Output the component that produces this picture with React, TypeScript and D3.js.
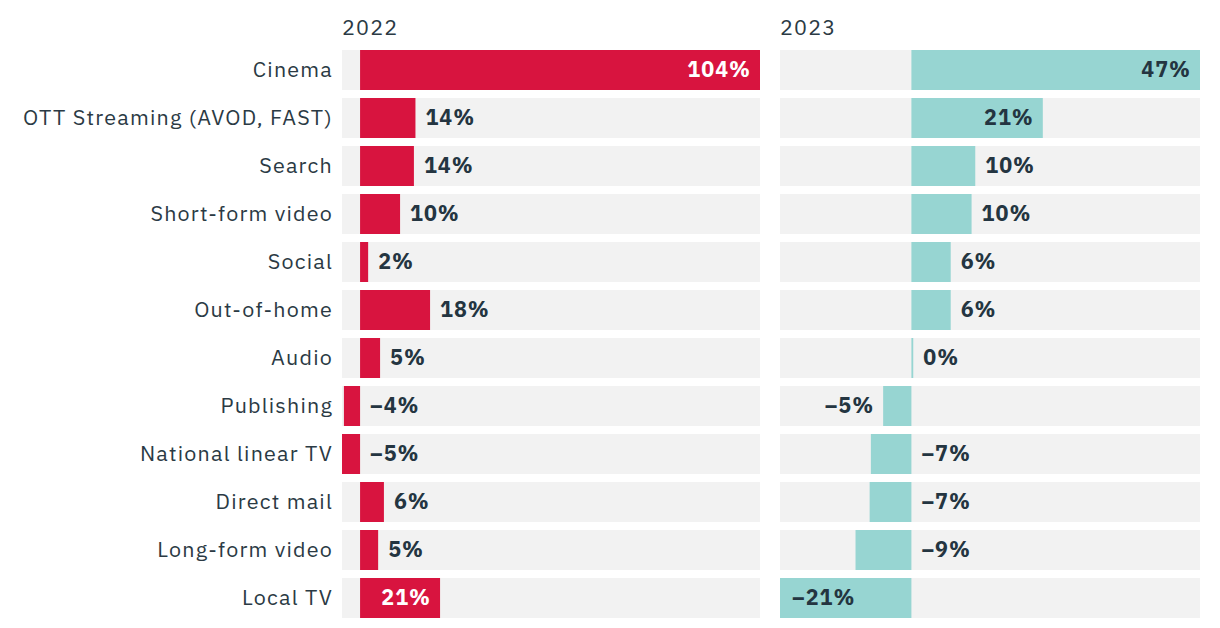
import React from "react";
import * as d3 from "d3";

const categories = [
  "Cinema",
  "OTT Streaming (AVOD, FAST)",
  "Search",
  "Short-form video",
  "Social",
  "Out-of-home",
  "Audio",
  "Publishing",
  "National linear TV",
  "Direct mail",
  "Long-form video",
  "Local TV",
];
const values2022 = [104, 14.4, 14.0, 10.4, 2.1, 18.2, 5.2, -4.2, -4.7, 6.2, 4.7, 20.8];
const values2023 = [47, 21.4, 10.4, 9.8, 6.4, 6.4, 0.3, -4.6, -6.6, -6.8, -9.1, -21.4];
// label placement per row: "auto" = inside if large, else outside end; "zero" = right of zero line; "left" = left of bar
const labelPos2022 = ["auto", "auto", "auto", "auto", "auto", "auto", "auto", "zero", "zero", "auto", "auto", "auto"];
const labelPos2023 = ["auto", "auto", "auto", "auto", "auto", "auto", "auto", "left", "zero", "zero", "zero", "auto"];
const titles = ["2022", "2023"];

const W = 1220;
const H = 628;
const FONT = "'IBM Plex Sans', 'Noto Sans', 'Open Sans', sans-serif";
const FS = 21.5;
const LS = 1.2;

function Panel({ x0, x1, values, labels, color, insideText, title, y }: any) {
  const ext = d3.extent(values) as [number, number];
  const x = d3.scaleLinear().domain([Math.min(0, ext[0]), Math.max(0, ext[1])]).range([x0, x1]);
  const zero = x(0);
  return (
    <g>
      <text x={x0} y={35} fontSize={FS} letterSpacing={LS} fill="#2b3a44" fontFamily={FONT}>
        {title}
      </text>
      {values.map((v: number, i: number) => {
        const top = y(categories[i]) as number;
        const h = y.bandwidth();
        const bx = Math.min(zero, x(v));
        const bw = Math.abs(x(v) - zero);
        const label = `${v < 0 ? "\u2013" : ""}${Math.abs(Math.round(v))}%`;
        const cy = top + h / 2;
        let tx = 0;
        let anchor = "start";
        let fill = "#243541";
        const pos = labels[i];
        if (pos === "zero") {
          tx = zero + 10;
        } else if (pos === "left") {
          tx = x(v) - 9;
          anchor = "end";
        } else if (Math.abs(v) >= 20) {
          if (v >= 0) {
            tx = x(v) - 9;
            anchor = "end";
          } else {
            tx = x(v) + 12;
          }
          fill = insideText;
        } else {
          tx = x(v) + 10;
        }
        return (
          <g key={i}>
            <rect x={x0} y={top} width={x1 - x0} height={h} fill="#f2f2f2" />
            <rect x={bx} y={top} width={Math.max(bw, 1.5)} height={h} fill={color} />
            <text
              x={tx}
              y={cy}
              dy="0.33em"
              textAnchor={anchor}
              fontSize={FS}
              letterSpacing={1}
              fontWeight={700}
              fill={fill}
              fontFamily={FONT}
            >
              {label}
            </text>
          </g>
        );
      })}
    </g>
  );
}

export default function App() {
  const y = d3
    .scaleBand<string>()
    .domain(categories)
    .range([50, 50 + 48 * categories.length - 8])
    .paddingInner(8 / 48);
  return (
    <svg width={W} height={H} style={{ position: "absolute", left: 0, top: 0, background: "#fff" }}>
      {categories.map((c) => (
        <text
          key={c}
          x={333}
          y={(y(c) as number) + y.bandwidth() / 2}
          dy="0.33em"
          textAnchor="end"
          fontSize={FS}
          letterSpacing={LS}
          fill="#2b3a44"
          fontFamily={FONT}
        >
          {c}
        </text>
      ))}
      <Panel x0={342} x1={760} values={values2022} labels={labelPos2022} color="#d8143f" insideText="#ffffff" title={titles[0]} y={y} />
      <Panel x0={780} x1={1200} values={values2023} labels={labelPos2023} color="#97d5d2" insideText="#243541" title={titles[1]} y={y} />
    </svg>
  );
}
